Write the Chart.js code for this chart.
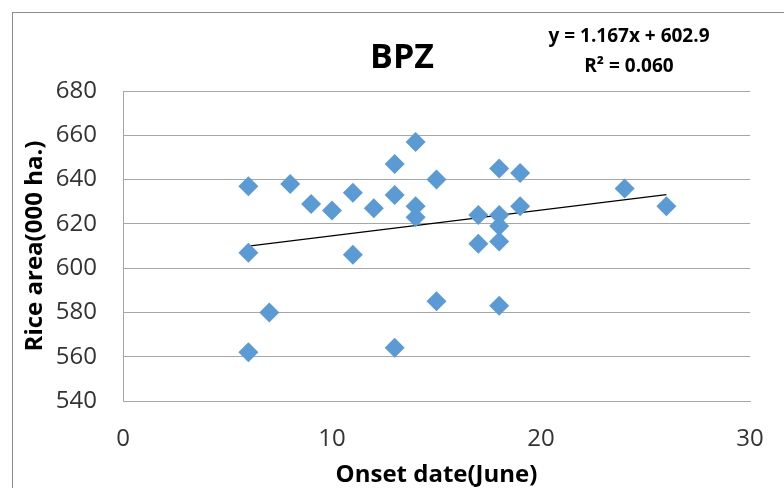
<!DOCTYPE html>
<html>
<head>
<meta charset="utf-8">
<script src="https://cdn.jsdelivr.net/npm/chart.js@4"></script>
<style>
  html, body { margin: 0; padding: 0; background: #fff; }
  #wrap { position: relative; width: 784px; height: 488px; overflow: hidden; }
  #frame { position: absolute; left: 12px; top: 12px; width: 900px; height: 600px;
           border-left: 1px solid #8c8c8c; border-top: 1px solid #8c8c8c; }
  canvas { position: absolute; left: 0; top: 0; }
</style>
</head>
<body>
<div id="wrap">
  <div id="frame"></div>
  <canvas id="chart" width="784" height="488"></canvas>
</div>
<script>
// onset day (June) and rice area (000 ha.)
const onsetDays = [6, 6, 6, 7, 8, 9, 10, 11, 11, 12, 13, 13, 13, 14, 14, 14, 15, 15,
                   17, 17, 18, 18, 18, 18, 18, 19, 19, 24, 26];
const riceArea = [637, 607, 562, 580, 638, 629, 626, 634, 606, 627, 647, 633, 564, 657, 628, 623, 640, 585,
                  624, 611, 645, 624, 619, 612, 583, 643, 628, 636, 628];

// trendline as printed on the chart
const trendSlope = 1.167;
const trendIntercept = 602.9;
const trendRange = [6, 26];
const trendText = ["y = 1.167x + 602.9", "R\u00B2 = 0.060"];

const chartTitle = "BPZ";
const xTitle = "Onset date(June)";
const yTitle = "Rice area(000 ha.)";

const FONT = "'Open Sans', 'Noto Sans', sans-serif";

const points = onsetDays.map((d, i) => ({ x: d, y: riceArea[i] }));
const trendPoints = trendRange.map((d) => ({ x: d, y: trendSlope * d + trendIntercept }));

// title and trendline label
const labelPlugin = {
  id: "labels",
  afterDraw(chart) {
    const ctx = chart.ctx;
    ctx.save();
    ctx.fillStyle = "#000";
    ctx.textAlign = "center";
    ctx.textBaseline = "middle";
    ctx.font = "bold 34px " + FONT;
    ctx.fillText(chartTitle, 402, 58);
    ctx.font = "bold 19px " + FONT;
    ctx.fillText(trendText[0], 629, 37);
    ctx.fillText(trendText[1], 629, 67);
    ctx.restore();
  },
};

const gridColor = "#a6a6a6";

new Chart(document.getElementById("chart"), {
  type: "scatter",
  data: {
    datasets: [
      {
        label: "Rice area",
        data: points,
        pointStyle: "rectRot",
        pointRadius: 10,
        pointHoverRadius: 10,
        backgroundColor: "#5b9bd5",
        borderColor: "#5b9bd5",
        borderWidth: 0,
      },
      {
        type: "line",
        label: "Trend",
        data: trendPoints,
        borderColor: "#000",
        borderWidth: 1.2,
        pointRadius: 0,
        fill: false,
      },
    ],
  },
  options: {
    responsive: false,
    animation: false,
    layout: { padding: { top: 91, right: 34, left: 0, bottom: 0 } },
    plugins: {
      legend: { display: false },
      tooltip: { enabled: false },
    },
    scales: {
      x: {
        type: "linear",
        min: 0,
        max: 30,
        ticks: { stepSize: 10, padding: 24, color: "#333", font: { family: FONT, size: 24 } },
        grid: { display: false, drawTicks: false },
        border: { display: true, color: gridColor },
        title: {
          display: true,
          text: xTitle,
          color: "#000",
          font: { family: FONT, size: 24, weight: "bold", lineHeight: 1.0 },
          padding: { top: 0, bottom: 1 },
        },
        afterFit: (scale) => {
          scale.height = 87;
          // the tick padding would otherwise shrink the plot on the right
          scale.paddingLeft = 0;
          scale.paddingRight = 0;
        },
      },
      y: {
        min: 540,
        max: 680,
        ticks: { stepSize: 20, padding: 26, color: "#333", font: { family: FONT, size: 24 } },
        grid: { color: gridColor, lineWidth: 1, drawTicks: false },
        border: { display: true, color: gridColor },
        title: {
          display: true,
          text: yTitle,
          color: "#000",
          font: { family: FONT, size: 24, weight: "bold", lineHeight: 1.2 },
          padding: { top: 21, bottom: 0 },
        },
        afterFit: (scale) => { scale.width = 123; },
      },
    },
  },
  plugins: [labelPlugin],
});
</script>
</body>
</html>
